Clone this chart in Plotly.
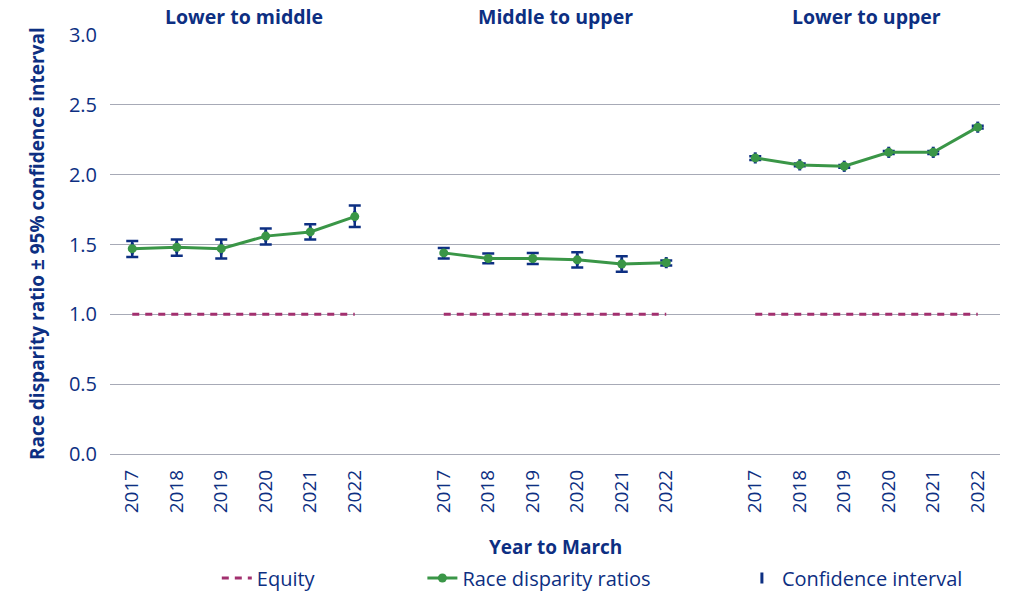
import plotly.graph_objects as go

groups = ["Lower to middle", "Middle to upper", "Lower to upper"]
years = ["2017", "2018", "2019", "2020", "2021", "2022"]

ratio_lower_middle = [1.47, 1.48, 1.47, 1.56, 1.59, 1.70]
ci_low_lower_middle = [1.41, 1.42, 1.40, 1.50, 1.535, 1.625]
ci_high_lower_middle = [1.525, 1.535, 1.535, 1.615, 1.645, 1.78]

ratio_middle_upper = [1.44, 1.40, 1.40, 1.39, 1.36, 1.37]
ci_low_middle_upper = [1.40, 1.365, 1.36, 1.335, 1.305, 1.35]
ci_high_middle_upper = [1.475, 1.435, 1.44, 1.445, 1.415, 1.385]

ratio_lower_upper = [2.12, 2.07, 2.06, 2.16, 2.16, 2.34]
ci_low_lower_upper = [2.105, 2.06, 2.05, 2.148, 2.148, 2.33]
ci_high_lower_upper = [2.132, 2.08, 2.07, 2.17, 2.17, 2.35]

equity_value = 1.0

y_ticks = [0.0, 0.5, 1.0, 1.5, 2.0, 2.5, 3.0]

ratios = [ratio_lower_middle, ratio_middle_upper, ratio_lower_upper]
ci_lows = [ci_low_lower_middle, ci_low_middle_upper, ci_low_lower_upper]
ci_highs = [ci_high_lower_middle, ci_high_middle_upper, ci_high_lower_upper]

NAVY = "#0d2f82"
GREEN = "#3a9647"
MAGENTA = "#a2306f"
GRID = "#a7aab6"
FONT = "Open Sans"

slot_step = len(years) + 1  # one empty slot between groups

xs, ys, ups, downs = [], [], [], []
eq_x, eq_y = [], []
tickvals, ticktext = [], []
for g in range(len(groups)):
    for i, yr in enumerate(years):
        pos = g * slot_step + i
        xs.append(pos)
        ys.append(ratios[g][i])
        ups.append(ci_highs[g][i] - ratios[g][i])
        downs.append(ratios[g][i] - ci_lows[g][i])
        tickvals.append(pos)
        ticktext.append(yr)
    eq_x += [g * slot_step, g * slot_step + len(years) - 1, None]
    eq_y += [equity_value, equity_value, None]
    if g < len(groups) - 1:
        xs.append(None)
        ys.append(None)
        ups.append(None)
        downs.append(None)

fig = go.Figure()

fig.add_trace(go.Scatter(
    x=eq_x, y=eq_y, mode="lines", name="Equity",
    line=dict(color=MAGENTA, width=3, dash="7px,6px"),
    legend="legend", hoverinfo="skip", showlegend=True,
))

fig.add_trace(go.Scatter(
    x=xs, y=ys, mode="markers", name="Confidence interval",
    marker=dict(symbol="line-ns-open", size=8, color=NAVY, line=dict(color=NAVY, width=3)),
    error_y=dict(type="data", symmetric=False, array=ups, arrayminus=downs,
                 color=NAVY, thickness=2.5, width=6),
    legend="legend3", showlegend=True,
))

fig.add_trace(go.Scatter(
    x=xs, y=ys, mode="lines+markers", name="Race disparity ratios",
    line=dict(color=GREEN, width=3),
    marker=dict(color=GREEN, size=9),
    connectgaps=False,
    legend="legend2", showlegend=True,
))

for g, name in enumerate(groups):
    center = g * slot_step + (len(years) - 1) / 2
    fig.add_annotation(
        x=center, xref="x", y=1.043, yref="paper", text="<b>%s</b>" % name,
        showarrow=False, font=dict(family=FONT, size=19.5, color=NAVY),
        xanchor="center", yanchor="middle",
    )

fig.add_annotation(
    x=0.5, xref="paper", y=-0.222, yref="paper", text="<b>Year to March</b>",
    showarrow=False, font=dict(family=FONT, size=19, color=NAVY),
    xanchor="center", yanchor="middle",
)

fig.add_annotation(
    x=-0.082, xref="paper", y=0.501, yref="paper",
    text="<b>Race disparity ratio ± 95% confidence interval</b>",
    textangle=-90, showarrow=False, font=dict(family=FONT, size=19, color=NAVY),
    xanchor="center", yanchor="middle",
)

legend_common = dict(orientation="h", yref="container", yanchor="middle", y=1 - 578 / 591,
                     xanchor="left",
                     font=dict(family=FONT, size=20, color=NAVY),
                     bgcolor="rgba(0,0,0,0)")

fig.update_layout(
    width=1009, height=591,
    margin=dict(l=110, r=9, t=35, b=137),
    paper_bgcolor="white", plot_bgcolor="white",
    font=dict(family=FONT, color=NAVY),
    showlegend=True,
    legend=dict(x=0.12, **legend_common),
    legend2=dict(x=0.351, **legend_common),
    legend3=dict(x=0.71, **legend_common),
    xaxis=dict(
        range=[-0.5, len(groups) * slot_step - 1.5],
        tickmode="array", tickvals=tickvals, ticktext=ticktext,
        tickangle=-90, showgrid=False, zeroline=False, showline=False,
        ticks="", ticklabelstandoff=11, automargin=False,
        tickfont=dict(family=FONT, size=19, color=NAVY),
    ),
    yaxis=dict(
        range=[0, 3.0], tickmode="array", tickvals=y_ticks,
        ticktext=["%.1f" % v for v in y_ticks],
        showgrid=True, gridcolor=GRID, gridwidth=1.2,
        zeroline=True, zerolinecolor=GRID, zerolinewidth=1.2,
        showline=False, ticks="", ticklabelstandoff=12, automargin=False,
        tickfont=dict(family=FONT, size=20, color=NAVY),
    ),
)

fig.write_html("out.html",
               config={"displayModeBar": False},
               post_script="document.body.style.margin='0px';document.body.style.overflow='hidden';")
